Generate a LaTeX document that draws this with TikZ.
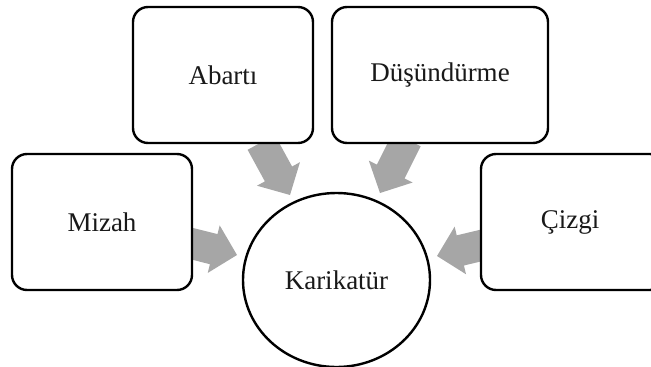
\documentclass[tikz,border=0pt]{standalone}
\usepackage{fontspec}
\setmainfont{Liberation Serif}
\usetikzlibrary{calc}
\definecolor{arrowgray}{HTML}{A6A6A6}
\tikzset{
  box/.style={draw=black, line width=2.4pt, rounded corners=15pt, fill=white},
  lbl/.style={font=\fontsize{27}{32}\selectfont, text=black!90},
  blockarr/.style={fill=arrowgray, draw=none},
}
% #1 tip coordinate, #2 target node (centre)
\newcommand\blockarrow[2]{%
  \fill[blockarr]
    ($($(#1)!-60pt!(#2)$)!15.5pt!90:(#2)$) --
    ($($(#1)!-24pt!(#2)$)!15.5pt!90:(#1)$) --
    ($($(#1)!-24pt!(#2)$)!24.5pt!90:(#1)$) --
    (#1) --
    ($($(#1)!-24pt!(#2)$)!24.5pt!-90:(#1)$) --
    ($($(#1)!-24pt!(#2)$)!15.5pt!-90:(#1)$) --
    ($($(#1)!-60pt!(#2)$)!15.5pt!-90:(#2)$) -- cycle;
}
\begin{document}
\begin{tikzpicture}[x=1pt, y=-1pt]
  \useasboundingbox (0,0) rectangle (651,367);
  \clip (0,0) rectangle (651,367);
  % centre
  \coordinate (c) at (336.5,280);
  % arrow tips
  \coordinate (tA) at (290,195);
  \coordinate (tD) at (380,193);
  \coordinate (tM) at (237,255);
  \coordinate (tC) at (437,256);
  \blockarrow{tA}{c}
  \blockarrow{tD}{c}
  \blockarrow{tM}{c}
  \blockarrow{tC}{c}
  % boxes
  \draw[box] (133,7) rectangle (313,143);
  \node[lbl] (abarti) at (223,75) {Abartı};
  \draw[box] (332,7) rectangle (548,143);
  \node[lbl] (dusundurme) at (440,75) {Düşündürme};
  \draw[box] (12,154) rectangle (192,290);
  \node[lbl] (mizah) at (102,222) {Mizah};
  \draw[box] (481,154) rectangle (665,290);
  \node[lbl] (cizgi) at (570,222) {Çizgi};
  % circle
  \draw[line width=2.4pt, fill=white] (c) ellipse [x radius=93.5, y radius=87];
  \node[lbl] (karikatur) at (336.5,280) {Karikatür};
\end{tikzpicture}
\end{document}
